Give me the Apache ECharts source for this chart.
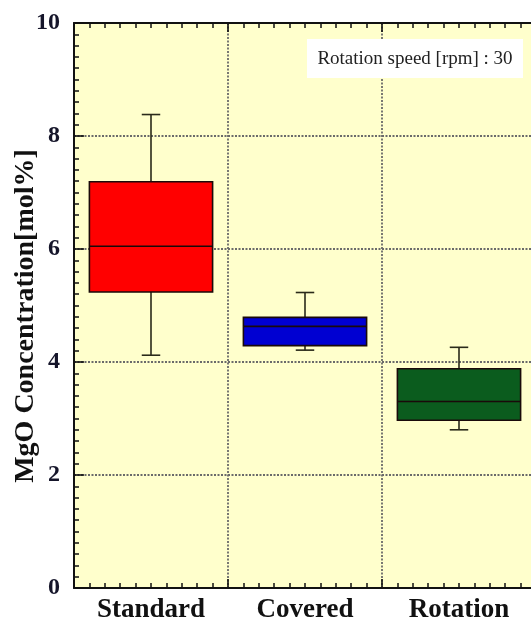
<!DOCTYPE html>
<html>
<head>
<meta charset="utf-8">
<script src="https://cdn.jsdelivr.net/npm/echarts@6/dist/echarts.min.js"></script>
<style>
html,body{margin:0;padding:0;background:#fff;}
#main{width:531px;height:618px;}
</style>
</head>
<body>
<div id="main"></div>
<script>
// Data
const categories = ['Standard', 'Covered', 'Rotation'];
const whiskerLow = [4.12, 4.21, 2.80];
const q1Values   = [5.24, 4.29, 2.97];
const medians    = [6.05, 4.63, 3.30];
const q3Values   = [7.19, 4.79, 3.88];
const whiskerHigh= [8.38, 5.23, 4.26];
const yTicks = [0, 2, 4, 6, 8, 10];
const noteText = 'Rotation speed [rpm] : 30';

const boxColors = ['#ff0000', '#0000d2', '#0b5c1e'];
const serif = '"Liberation Serif", "Times New Roman", serif';

const boxData = categories.map((c, i) => [i, whiskerLow[i], q1Values[i], medians[i], q3Values[i], whiskerHigh[i]]);

function renderItem(params, api) {
  const i = api.value(0);
  const band = api.size([1, 0])[0];
  const cx = api.coord([i, 0])[0];
  const hw = band * 0.4;
  const cw = band * 0.06;
  const yLow = api.coord([i, api.value(1)])[1];
  const yQ1 = api.coord([i, api.value(2)])[1];
  const yMed = api.coord([i, api.value(3)])[1];
  const yQ3 = api.coord([i, api.value(4)])[1];
  const yHigh = api.coord([i, api.value(5)])[1];
  const ws = { stroke: '#2a2a1a', lineWidth: 1.6 };
  const bs = { stroke: '#1a0a0a', lineWidth: 1.6 };
  return {
    type: 'group',
    children: [
      { type: 'line', shape: { x1: cx, y1: yHigh, x2: cx, y2: yQ3 }, style: ws },
      { type: 'line', shape: { x1: cx, y1: yQ1, x2: cx, y2: yLow }, style: ws },
      { type: 'line', shape: { x1: cx - cw, y1: yHigh, x2: cx + cw, y2: yHigh }, style: ws },
      { type: 'line', shape: { x1: cx - cw, y1: yLow, x2: cx + cw, y2: yLow }, style: ws },
      { type: 'rect', shape: { x: cx - hw, y: yQ3, width: hw * 2, height: yQ1 - yQ3 }, style: { fill: boxColors[i], stroke: bs.stroke, lineWidth: bs.lineWidth } },
      { type: 'line', shape: { x1: cx - hw, y1: yMed, x2: cx + hw, y2: yMed }, style: bs }
    ]
  };
}

const chart = echarts.init(document.getElementById('main'), null, { renderer: 'canvas' });
const gridDash = { color: '#6a6a6a', width: 1.8, type: [2, 1.5] };

chart.setOption({
  animation: false,
  backgroundColor: '#ffffff',
  grid: { left: 74, top: 23, right: -5, bottom: 30, outerBoundsMode: 'none', containLabel: false, show: true, backgroundColor: '#ffffcc', borderWidth: 0 },
  xAxis: [
    {
      type: 'category', data: categories, position: 'bottom',
      axisLine: { show: false }, axisTick: { show: false }, splitLine: { show: false },
      axisLabel: { show: true, fontFamily: serif, fontWeight: 'bold', fontSize: 27, color: '#111', margin: 9 }
    },
    {
      type: 'value', min: 0, max: 3, interval: 1, position: 'bottom',
      axisLine: { show: true, lineStyle: { color: '#111', width: 2 } },
      axisTick: { show: true, inside: true, length: 9, lineStyle: { color: '#111', width: 1.6 } },
      minorTick: { show: true, splitNumber: 10, length: 5, lineStyle: { color: '#111', width: 1.5 } },
      axisLabel: { show: false },
      splitLine: { show: true, lineStyle: gridDash }
    },
    {
      type: 'value', min: 0, max: 3, interval: 1, position: 'top',
      axisLine: { show: true, lineStyle: { color: '#111', width: 2 } },
      axisTick: { show: true, inside: true, length: 9, lineStyle: { color: '#111', width: 1.6 } },
      minorTick: { show: true, splitNumber: 10, length: 5, lineStyle: { color: '#111', width: 1.5 } },
      axisLabel: { show: false },
      splitLine: { show: false }
    }
  ],
  yAxis: [
    {
      type: 'value', min: yTicks[0], max: yTicks[yTicks.length - 1], interval: yTicks[1] - yTicks[0], position: 'left',
      axisLine: { show: true, lineStyle: { color: '#111', width: 2 } },
      axisTick: { show: true, inside: true, length: 10, lineStyle: { color: '#111', width: 1.6 } },
      minorTick: { show: true, splitNumber: 10, length: 5, lineStyle: { color: '#111', width: 1.5 } },
      axisLabel: { show: true, fontFamily: serif, fontWeight: 'bold', fontSize: 24, color: '#15152a', margin: 14 },
      splitLine: { show: true, lineStyle: gridDash }
    }
  ],
  graphic: [
    {
      type: 'text', x: 26, y: 316, rotation: Math.PI / 2,
      style: { text: 'MgO Concentration[mol%]', fontFamily: serif, fontWeight: 'bold', fontSize: 28, fill: '#111', textAlign: 'center', textVerticalAlign: 'middle' }
    },
    {
      type: 'rect', shape: { x: 307, y: 39, width: 216, height: 39 }, style: { fill: '#ffffff' }, z: 100
    },
    {
      type: 'text', x: 415, y: 59, z: 101,
      style: { text: noteText, fontFamily: serif, fontSize: 19, fill: '#222', textAlign: 'center', textVerticalAlign: 'middle' }
    }
  ],
  series: [
    {
      type: 'custom', xAxisIndex: 0, yAxisIndex: 0, renderItem: renderItem,
      encode: { x: 0, y: [1, 2, 3, 4, 5] },
      data: boxData, z: 10
    }
  ]
});
</script>
</body>
</html>
